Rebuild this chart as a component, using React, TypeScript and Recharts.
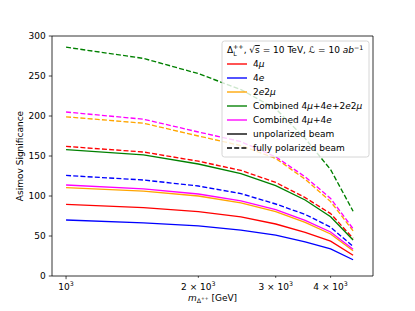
import React from 'react';
import { LineChart, Line, XAxis, YAxis, ReferenceArea } from 'recharts';

const font = '"DejaVu Sans", sans-serif';

// masses in GeV
const masses = [1000, 1500, 2000, 2500, 3000, 3500, 4000, 4500];

// unpolarized beam
const unpol4mu = [89.6, 85.5, 80.5, 74, 65, 54.5, 43.5, 26];
const unpol4e = [70, 66.5, 62.6, 57.3, 51, 42.7, 34, 20.3];
const unpol2e2mu = [110.4, 106, 100, 91.5, 80.5, 67, 52.5, 31.5];
const unpolCombAll = [158, 151.5, 140, 128, 113, 95, 74, 45];
const unpolComb4mu4e = [113.7, 109, 102.5, 94, 83, 69.5, 55, 33.5];

// fully polarized beam
const pol4mu = [162, 155, 143.5, 132, 117, 98, 78, 47];
const pol4e = [125.7, 120, 112.5, 103, 90, 77, 61, 37];
const pol2e2mu = [199, 191, 175, 163, 147, 121, 93, 56.5];
const polCombAll = [286, 272, 253, 233, 209, 172, 133, 81];
const polComb4mu4e = [205, 196, 180, 168, 149, 124, 97, 59];

const xTicks = [1000, 2000, 3000, 4000];
const xTickMantissa = ['', '2', '3', '4'];
const yTicks = [0, 50, 100, 150, 200, 250, 300];

const data = masses.map((m, i) => ({
  mass: m,
  u4mu: unpol4mu[i],
  u4e: unpol4e[i],
  u2e2mu: unpol2e2mu[i],
  uAll: unpolCombAll[i],
  u4mu4e: unpolComb4mu4e[i],
  p4mu: pol4mu[i],
  p4e: pol4e[i],
  p2e2mu: pol2e2mu[i],
  pAll: polCombAll[i],
  p4mu4e: polComb4mu4e[i],
}));

const series = [
  { key: 'u4mu', color: '#ff0000', dashed: false },
  { key: 'p4mu', color: '#ff0000', dashed: true },
  { key: 'u4e', color: '#0000ff', dashed: false },
  { key: 'p4e', color: '#0000ff', dashed: true },
  { key: 'u2e2mu', color: '#ffa500', dashed: false },
  { key: 'p2e2mu', color: '#ffa500', dashed: true },
  { key: 'uAll', color: '#008000', dashed: false },
  { key: 'pAll', color: '#008000', dashed: true },
  { key: 'u4mu4e', color: '#ff00ff', dashed: false },
  { key: 'p4mu4e', color: '#ff00ff', dashed: true },
];

const legendItems = [
  { label: '$4μ$', color: '#ff0000', dashed: false },
  { label: '$4e$', color: '#0000ff', dashed: false },
  { label: '$2e2μ$', color: '#ffa500', dashed: false },
  { label: 'Combined $4μ+4e+2e2μ$', color: '#008000', dashed: false },
  { label: 'Combined $4μ+4e$', color: '#ff00ff', dashed: false },
  { label: 'unpolarized beam', color: '#000000', dashed: false },
  { label: 'fully polarized beam', color: '#000000', dashed: true },
];

// text with $...$ parts drawn in math style (letters italic)
function mathLabel(s: string) {
  const parts = s.split('$');
  const out: React.ReactNode[] = [];
  parts.forEach((p, i) => {
    if (i % 2 === 0) {
      if (p) out.push(<tspan key={i}>{p}</tspan>);
    } else {
      p.split('').forEach((ch, j) => {
        out.push(
          <tspan key={`${i}-${j}`} fontStyle={/[a-zμ]/.test(ch) ? 'italic' : 'normal'}>
            {ch}
          </tspan>
        );
      });
    }
  });
  return out;
}

const XTick = (props: any) => {
  const { x, y, payload } = props;
  const i = xTicks.indexOf(payload.value);
  const major = payload.value === 1000;
  return (
    <g>
      <line x1={x} x2={x} y1={y} y2={y + (major ? 3.2 : 1.8)} stroke="#000" strokeWidth={0.72} />
      <text x={x} y={y + 13.5} textAnchor="middle" fontSize={9} fontFamily={font} fill="#000">
        {i > 0 ? `${xTickMantissa[i]} × ` : ''}10
        <tspan dy={-3.8} fontSize={6.3}>3</tspan>
      </text>
    </g>
  );
};

const Legend = () => {
  const left = 222;
  const top = 41;
  const rowTop = 64;
  const rowStep = 14;
  return (
    <svg
      width={415}
      height={311}
      style={{ position: 'absolute', left: 0, top: 0, pointerEvents: 'none' }}
    >
      <rect x={left} y={top} width={147} height={116} rx={2.5} fill="#fff" fillOpacity={0.8} stroke="#cccccc" strokeWidth={0.8} />
      <text x={227} y={53} fontSize={9} fontFamily={font} fill="#000">
        Δ
        <tspan dy={2.5} fontSize={6.3}>L</tspan>
        <tspan dx={-3.6} dy={-7} fontSize={6.3}>++</tspan>
        <tspan dy={4.5}>, √</tspan>
        <tspan textDecoration="overline">s</tspan>
        <tspan> = 10 TeV, ℒ = 10 </tspan>
        <tspan fontStyle="italic">ab</tspan>
        <tspan dy={-3.5} fontSize={6.3}>−1</tspan>
      </text>
      {legendItems.map((it, i) => {
        const cy = rowTop + i * rowStep;
        return (
          <g key={it.label}>
            <line
              x1={227}
              x2={247}
              y1={cy}
              y2={cy}
              stroke={it.color}
              strokeWidth={1.35}
              strokeDasharray={it.dashed ? '5 2.2' : undefined}
            />
            <text x={253} y={cy + 3.3} fontSize={9} fontFamily={font} fill="#000">
              {mathLabel(it.label)}
            </text>
          </g>
        );
      })}
    </svg>
  );
};

export default function App() {
  return (
    <div style={{ position: 'fixed', left: 0, top: 0, width: 415, height: 311, background: '#fff' }}>
      <LineChart width={415} height={311} data={data} margin={{ top: 36, right: 42, bottom: 0, left: 0 }}>
        <XAxis
          dataKey="mass"
          type="number"
          scale="log"
          domain={[929, 4995]}
          allowDataOverflow
          ticks={xTicks}
          tick={<XTick />}
          tickLine={false}
          tickSize={0}
          tickMargin={0}
          axisLine={false}
          height={35}
          label={{
            content: (p: any) => {
              const vb = p.viewBox;
              return (
                <text x={vb.x + vb.width / 2} y={vb.y + 24.5} textAnchor="middle" fontSize={9} fontFamily={font} fill="#000">
                  <tspan fontStyle="italic">m</tspan>
                  <tspan dy={2.5} fontSize={6.3}>Δ</tspan>
                  <tspan dy={-3.5} fontSize={4.5}>++</tspan>
                  <tspan dy={1}> [GeV]</tspan>
                </text>
              );
            },
          }}
        />
        <YAxis
          type="number"
          domain={[0, 300]}
          ticks={yTicks}
          width={52}
          tick={{ fontSize: 9, fill: '#000', fontFamily: font }}
          tickSize={3.2}
          tickMargin={3}
          tickLine={{ stroke: '#000', strokeWidth: 0.72 }}
          axisLine={false}
          label={{
            content: (p: any) => {
              const vb = p.viewBox;
              const cx = vb.x + 20;
              const cy = vb.y + vb.height / 2;
              return (
                <text x={cx} y={cy} transform={`rotate(-90 ${cx} ${cy})`} textAnchor="middle" dominantBaseline="central" fontSize={9} fontFamily={font} fill="#000">
                  Asimov Significance
                </text>
              );
            },
          }}
        />
        <ReferenceArea x1={929} x2={4995} y1={0} y2={300} fill="none" stroke="#000" strokeWidth={0.8} ifOverflow="extendDomain" />
        {series.map((s) => (
          <Line
            key={s.key}
            type="linear"
            dataKey={s.key}
            stroke={s.color}
            strokeWidth={1.35}
            strokeDasharray={s.dashed ? '5 2.2' : undefined}
            dot={false}
            activeDot={false}
            isAnimationActive={false}
          />
        ))}
      </LineChart>
      <Legend />
    </div>
  );
}
